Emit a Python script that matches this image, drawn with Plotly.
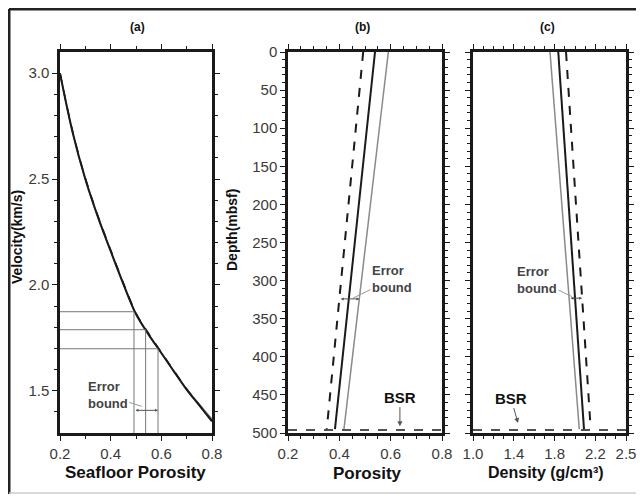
import plotly.graph_objects as go

# browser body margin (8 px) is compensated by shrinking the figure
OFF = 8
W, H = 644 - OFF, 496 - OFF

# ---------------- data ----------------
# (a) velocity vs seafloor porosity
seafloor_porosity = [0.20, 0.25, 0.30, 0.35, 0.40, 0.45, 0.50, 0.55, 0.60, 0.65, 0.70, 0.75, 0.80]
velocity_solid = [3.00, 2.72, 2.50, 2.32, 2.16, 2.005, 1.862, 1.765, 1.678, 1.59, 1.505, 1.43, 1.355]
velocity_dashed = [3.00, 2.725, 2.505, 2.325, 2.165, 2.01, 1.867, 1.770, 1.682, 1.594, 1.508, 1.432, 1.357]
velocity_gray = [3.00, 2.718, 2.498, 2.318, 2.158, 2.003, 1.860, 1.764, 1.678, 1.592, 1.508, 1.436, 1.365]
bound_porosity = [0.492, 0.538, 0.587]
bound_velocity = [1.873, 1.788, 1.698]

# (b) porosity vs depth
depth = [0, 495]
porosity_dashed = [0.493, 0.351]
porosity_solid = [0.539, 0.383]
porosity_gray = [0.591, 0.418]

# (c) density vs depth
density_gray = [1.755, 2.042]
density_solid = [1.836, 2.088]
density_dashed = [1.912, 2.154]

bsr_depth = 496
density_ticks = [1.0, 1.4, 1.8, 2.2, 2.5]

# ---------------- helpers ----------------
def px(x):
    return (x - OFF) / W

def py(y):
    return 1 - (y - OFF) / H

fig = go.Figure()

BLACK = "#1a1a1a"
GRAY = "#8a8a8a"
LGRAY = "#777777"

# (a) curves
fig.add_trace(go.Scatter(x=seafloor_porosity, y=velocity_gray, mode="lines", line=dict(color=GRAY, width=1.5, shape="spline"), xaxis="x", yaxis="y"))
fig.add_trace(go.Scatter(x=seafloor_porosity, y=velocity_dashed, mode="lines", line=dict(color=BLACK, width=1.5, dash="dash", shape="spline"), xaxis="x", yaxis="y"))
fig.add_trace(go.Scatter(x=seafloor_porosity, y=velocity_solid, mode="lines", line=dict(color=BLACK, width=2, shape="spline"), xaxis="x", yaxis="y"))
for p, v in zip(bound_porosity, bound_velocity):
    fig.add_trace(go.Scatter(x=[0.2, p], y=[v, v], mode="lines", line=dict(color=LGRAY, width=1), xaxis="x", yaxis="y"))
    fig.add_trace(go.Scatter(x=[p, p], y=[1.3, v], mode="lines", line=dict(color=LGRAY, width=1), xaxis="x", yaxis="y"))

# (b) lines
fig.add_trace(go.Scatter(x=porosity_dashed, y=depth, mode="lines", line=dict(color=BLACK, width=2, dash="dash"), xaxis="x2", yaxis="y2"))
fig.add_trace(go.Scatter(x=porosity_solid, y=depth, mode="lines", line=dict(color=BLACK, width=2), xaxis="x2", yaxis="y2"))
fig.add_trace(go.Scatter(x=porosity_gray, y=depth, mode="lines", line=dict(color=GRAY, width=1.5), xaxis="x2", yaxis="y2"))
fig.add_trace(go.Scatter(x=[0.2, 0.8], y=[bsr_depth, bsr_depth], mode="lines", line=dict(color=BLACK, width=1.5, dash="dash"), xaxis="x2", yaxis="y2"))

# (c) lines
fig.add_trace(go.Scatter(x=density_gray, y=depth, mode="lines", line=dict(color=GRAY, width=1.5), xaxis="x3", yaxis="y3"))
fig.add_trace(go.Scatter(x=density_solid, y=depth, mode="lines", line=dict(color=BLACK, width=2), xaxis="x3", yaxis="y3"))
fig.add_trace(go.Scatter(x=density_dashed, y=depth, mode="lines", line=dict(color=BLACK, width=2, dash="dash"), xaxis="x3", yaxis="y3"))
fig.add_trace(go.Scatter(x=[1.0, 2.5], y=[bsr_depth, bsr_depth], mode="lines", line=dict(color=BLACK, width=1.5, dash="dash"), xaxis="x3", yaxis="y3"))

tickfont = dict(family="Liberation Sans, Arial, sans-serif", size=15, color="#3a3a3a")

def axis(domain, rng, **kw):
    d = dict(domain=domain, range=rng, showline=True, linewidth=2.5, linecolor=BLACK,
             mirror="allticks", ticks="outside", ticklen=5, tickwidth=1.3, tickcolor=BLACK,
             showgrid=False, zeroline=False, tickfont=tickfont, fixedrange=True, automargin=False)
    d.update(kw)
    return d

ydom = [py(433), py(52)]
minor_style = dict(ticks="outside", ticklen=3, tickwidth=1, tickcolor=BLACK, showgrid=False)

fig.update_layout(
    width=W, height=H, margin=dict(l=0, r=0, t=0, b=0, pad=0), autosize=False,
    paper_bgcolor="white", plot_bgcolor="white", showlegend=False,
    xaxis=axis([px(60), px(212)], [0.2, 0.8], anchor="y", tickvals=[0.2, 0.4, 0.6, 0.8], ticktext=["0.2", "0.4", "0.6", "0.8"],
               minor=dict(tickmode="array", tickvals=[0.3, 0.5, 0.7], **minor_style)),
    yaxis=axis(ydom, [1.3, 3.1], anchor="x", tickvals=[1.5, 2.0, 2.5, 3.0], ticktext=["1.5", "2.0", "2.5", "3.0"],
               minor=dict(tickmode="array", tickvals=[1.4, 1.6, 1.7, 1.8, 1.9, 2.1, 2.2, 2.3, 2.4, 2.6, 2.7, 2.8, 2.9], **minor_style)),
    xaxis2=axis([px(288), px(442)], [0.2, 0.8], anchor="y2", tickvals=[0.2, 0.4, 0.6, 0.8], ticktext=["0.2", "0.4", "0.6", "0.8"],
                minor=dict(tickmode="linear", tick0=0.2, dtick=0.05, **minor_style)),
    yaxis2=axis(ydom, [500, 0], anchor="x2", tickmode="linear", tick0=0, dtick=50,
                minor=dict(tickmode="linear", tick0=0, dtick=10, **minor_style)),
    xaxis3=axis([px(473), px(626)], [1.0, 2.5], anchor="y3", tickvals=density_ticks, ticktext=["1.0", "1.4", "1.8", "2.2", "2.5"],
                minor=dict(tickmode="linear", tick0=1.0, dtick=0.1, **minor_style)),
    yaxis3=axis(ydom, [500, 0], anchor="x3", tickmode="linear", tick0=0, dtick=50, showticklabels=False,
                minor=dict(tickmode="linear", tick0=0, dtick=10, **minor_style)),
)

bold = dict(family="Liberation Sans, Arial, sans-serif", color="#111")
center = dict(xref="paper", yref="paper", showarrow=False, xanchor="center", yanchor="middle")
ann = []
# panel labels
for label, x in [("(a)", 137), ("(b)", 362), ("(c)", 547)]:
    ann.append(dict(text=f"<b>{label}</b>", x=px(x), y=py(27), font=dict(size=12, **bold), **center))
# axis titles
ann.append(dict(text="<b>Seafloor Porosity</b>", x=px(135), y=py(472), font=dict(size=17, **bold), **center))
ann.append(dict(text="<b>Porosity</b>", x=px(367), y=py(473), font=dict(size=17, **bold), **center))
ann.append(dict(text="<b>Density (g/cm³)</b>", x=px(546), y=py(472), font=dict(size=16, **bold), **center))
ann.append(dict(text="<b>Velocity(km/s)</b>", x=px(17), y=py(237), textangle=-90, font=dict(size=14, **bold), **center))
ann.append(dict(text="<b>Depth(mbsf)</b>", x=px(232), y=py(230), textangle=-90, font=dict(size=14, **bold), **center))

eb_font = dict(size=13, family="Liberation Sans, Arial, sans-serif", color="#444")
# error bound callouts
ann.append(dict(text="<b>Error<br>bound</b>", x=0.5225, y=1.426, xref="x", yref="y", ax=-34, ay=-11,
                showarrow=True, arrowhead=0, arrowwidth=1, arrowcolor="#999", font=eb_font, align="left"))
ann.append(dict(text="<b>Error<br>bound</b>", x=0.453, y=323, xref="x2", yref="y2", ax=39, ay=-19,
                showarrow=True, arrowhead=0, arrowwidth=1, arrowcolor="#999", font=eb_font, align="left"))
ann.append(dict(text="<b>Error<br>bound</b>", x=1.97, y=321, xref="x3", yref="y3", ax=-35, ay=-17,
                showarrow=True, arrowhead=0, arrowwidth=1, arrowcolor="#999", font=eb_font, align="left"))
# double-headed bound arrows
ann.append(dict(text="", x=bound_porosity[2], y=1.407, ax=bound_porosity[0], ay=1.407, xref="x", yref="y", axref="x", ayref="y",
                showarrow=True, arrowhead=2, arrowside="end+start", arrowsize=0.6, arrowwidth=1, arrowcolor="#555"))
ann.append(dict(text="", x=0.478, y=324, ax=0.400, ay=324, xref="x2", yref="y2", axref="x2", ayref="y2",
                showarrow=True, arrowhead=2, arrowside="end+start", arrowsize=0.6, arrowwidth=1, arrowcolor="#555"))
ann.append(dict(text="", x=2.070, y=323, ax=1.942, ay=323, xref="x3", yref="y3", axref="x3", ayref="y3",
                showarrow=True, arrowhead=2, arrowside="end+start", arrowsize=0.6, arrowwidth=1, arrowcolor="#555"))
# BSR
ann.append(dict(text="<b>BSR</b>", x=0.636, y=491, xref="x2", yref="y2", ax=0, ay=-29,
                showarrow=True, arrowhead=2, arrowsize=1, arrowwidth=1, arrowcolor="#555", font=dict(size=15, **bold)))
ann.append(dict(text="<b>BSR</b>", x=1.441, y=487, xref="x3", yref="y3", ax=-7, ay=-25,
                showarrow=True, arrowhead=2, arrowsize=1, arrowwidth=1, arrowcolor="#555", font=dict(size=15, **bold)))
fig.update_layout(annotations=ann)

# outer frame
shapes = [
    dict(type="line", xref="paper", yref="paper", x0=px(9), x1=px(642), y0=py(9), y1=py(9), line=dict(color="#222", width=3)),
    dict(type="line", xref="paper", yref="paper", x0=px(9), x1=px(9), y0=py(9), y1=py(494), line=dict(color="#222", width=3)),
    dict(type="line", xref="paper", yref="paper", x0=px(641), x1=px(641), y0=py(9), y1=py(494), line=dict(color="#bbb", width=1.5)),
    dict(type="line", xref="paper", yref="paper", x0=px(9), x1=px(641), y0=py(493), y1=py(493), line=dict(color="#ccc", width=1.5)),
]
fig.update_layout(shapes=shapes)

fig.write_html("out.html")
